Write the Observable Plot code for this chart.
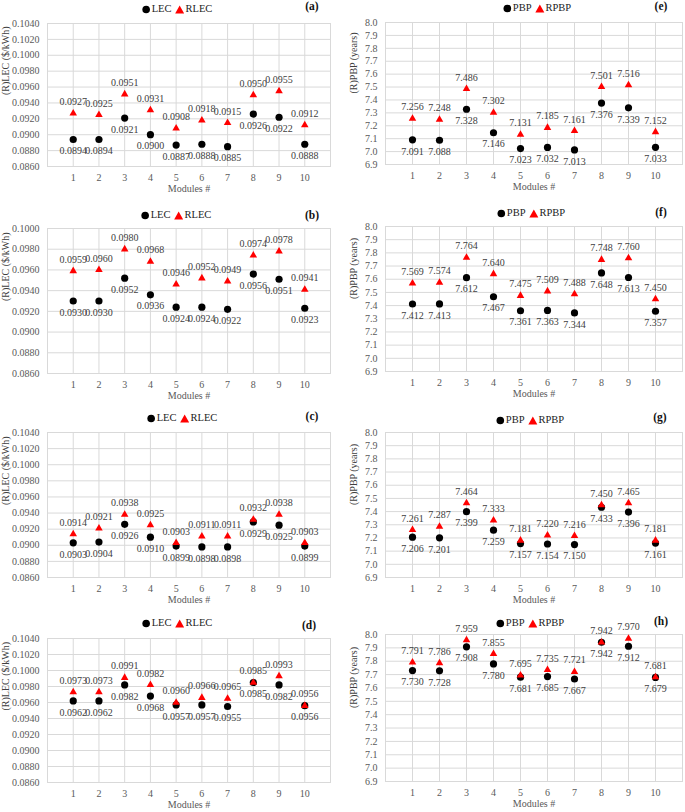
<!DOCTYPE html>
<html>
<head>
<meta charset="utf-8">
<script src="https://cdn.jsdelivr.net/npm/d3@7"></script>
<script src="https://cdn.jsdelivr.net/npm/@observablehq/plot@0.6"></script>
<style>
  html, body { margin: 0; padding: 0; background: #fff; }
  #root { position: relative; width: 685px; height: 812px; overflow: hidden; background: #fff;
          font-family: "Liberation Serif", serif; }
  .panel { position: absolute; }
  .panel svg, .panel svg text { font-family: "Liberation Serif", serif !important; }
  .legend { position: absolute; transform: translateX(-50%); font-size: 10.5px; line-height: 14px;
            color: #222; white-space: nowrap; display: flex; align-items: center; font-family: "Liberation Serif", serif; }
  .legend svg { display: inline-block; margin-right: 1px; }
  .plabel { position: absolute; transform: translate(-50%, -50%); font-weight: bold; font-size: 11.5px; color: #111;
            font-family: "Liberation Serif", serif; }
</style>
</head>
<body>
<div id="root"></div>
<script>
// ---- data ----
const modules = [1, 2, 3, 4, 5, 6, 7, 8, 9, 10];

const a_LEC  = [0.0894, 0.0894, 0.0921, 0.0900, 0.0887, 0.0888, 0.0885, 0.0926, 0.0922, 0.0888];
const a_RLEC = [0.0927, 0.0925, 0.0951, 0.0931, 0.0908, 0.0918, 0.0915, 0.0950, 0.0955, 0.0912];
const b_LEC  = [0.0930, 0.0930, 0.0952, 0.0936, 0.0924, 0.0924, 0.0922, 0.0956, 0.0951, 0.0923];
const b_RLEC = [0.0959, 0.0960, 0.0980, 0.0968, 0.0946, 0.0952, 0.0949, 0.0974, 0.0978, 0.0941];
const c_LEC  = [0.0903, 0.0904, 0.0926, 0.0910, 0.0899, 0.0898, 0.0898, 0.0929, 0.0925, 0.0899];
const c_RLEC = [0.0914, 0.0921, 0.0938, 0.0925, 0.0903, 0.0911, 0.0911, 0.0932, 0.0938, 0.0903];
const d_LEC  = [0.0962, 0.0962, 0.0982, 0.0968, 0.0957, 0.0957, 0.0955, 0.0985, 0.0982, 0.0956];
const d_RLEC = [0.0973, 0.0973, 0.0991, 0.0982, 0.0960, 0.0966, 0.0965, 0.0985, 0.0993, 0.0956];

const e_PBP  = [7.091, 7.088, 7.328, 7.146, 7.023, 7.032, 7.013, 7.376, 7.339, 7.033];
const e_RPBP = [7.256, 7.248, 7.486, 7.302, 7.131, 7.185, 7.161, 7.501, 7.516, 7.152];
const f_PBP  = [7.412, 7.413, 7.612, 7.467, 7.361, 7.363, 7.344, 7.648, 7.613, 7.357];
const f_RPBP = [7.569, 7.574, 7.764, 7.640, 7.475, 7.509, 7.488, 7.748, 7.760, 7.450];
const g_PBP  = [7.206, 7.201, 7.399, 7.259, 7.157, 7.154, 7.150, 7.433, 7.396, 7.161];
const g_RPBP = [7.261, 7.287, 7.464, 7.333, 7.181, 7.220, 7.216, 7.450, 7.465, 7.181];
const h_PBP  = [7.730, 7.728, 7.908, 7.780, 7.681, 7.685, 7.667, 7.942, 7.912, 7.679];
const h_RPBP = [7.791, 7.786, 7.959, 7.855, 7.695, 7.735, 7.721, 7.942, 7.970, 7.681];

const lecTicks  = [0.0860, 0.0880, 0.0900, 0.0920, 0.0940, 0.0960, 0.0980, 0.1000, 0.1020, 0.1040];
const lecTicksB = [0.0860, 0.0880, 0.0900, 0.0920, 0.0940, 0.0960, 0.0980, 0.1000];
const pbpTicks  = [6.9, 7.0, 7.1, 7.2, 7.3, 7.4, 7.5, 7.6, 7.7, 7.8, 7.9, 8.0];

const xLabel = "Modules #";
const lecLabel = "(R)LEC ($/kWh)";
const pbpLabel = "(R)PBP (years)";

// ---- layout ----
const cols = [
  {left: 0,   width: 340, ml: 47, mr: 10, ylabDx: -42},
  {left: 340, width: 345, ml: 45, mr: 3,  ylabDx: -32}
];

const panels = [
  {key: "a", col: 0, top: 23,  h: 143, lx: 177, ly: 9,   tx: 312, ty: 6,   kind: "LEC", ticks: lecTicks,  s1: a_LEC, s2: a_RLEC},
  {key: "b", col: 0, top: 228, h: 145, lx: 176, ly: 215, tx: 312, ty: 215, kind: "LEC", ticks: lecTicksB, s1: b_LEC, s2: b_RLEC},
  {key: "c", col: 0, top: 432, h: 145, lx: 182, ly: 418, tx: 312, ty: 416, kind: "LEC", ticks: lecTicks,  s1: c_LEC, s2: c_RLEC},
  {key: "d", col: 0, top: 638, h: 144, lx: 177, ly: 623, tx: 309, ty: 625, kind: "LEC", ticks: lecTicks,  s1: d_LEC, s2: d_RLEC},
  {key: "e", col: 1, top: 22,  h: 142, lx: 537, ly: 8,   tx: 661, ty: 6,   kind: "PBP", ticks: pbpTicks,  s1: e_PBP, s2: e_RPBP},
  {key: "f", col: 1, top: 226, h: 145, lx: 531, ly: 213, tx: 661, ty: 212, kind: "PBP", ticks: pbpTicks,  s1: f_PBP, s2: f_RPBP},
  {key: "g", col: 1, top: 432, h: 145, lx: 530, ly: 420, tx: 660, ty: 417, kind: "PBP", ticks: pbpTicks,  s1: g_PBP, s2: g_RPBP},
  {key: "h", col: 1, top: 634, h: 147, lx: 530, ly: 623, tx: 661, ty: 621, kind: "PBP", ticks: pbpTicks,  s1: h_PBP, s2: h_RPBP}
];

const root = document.getElementById("root");
const MT = 16, MB = 34;
const grid = "#d9d9d9";
const font = "Liberation Serif";
const FS = 10;

for (const p of panels) {
  const c = cols[p.col];
  const isLEC = p.kind === "LEC";
  const dec = isLEC ? 4 : 3;
  const data = modules.map((m, i) => ({m, v1: p.s1[i], v2: p.s2[i]}));
  const chart = Plot.plot({
    width: c.width,
    height: MT + p.h + MB,
    marginLeft: c.ml,
    marginRight: c.mr,
    marginTop: MT,
    marginBottom: MB,
    style: `font-family: "Liberation Serif", serif; font-size: ${FS}px; color: #595959; background: transparent; overflow: visible;`,
    x: {domain: [0, 11], label: null},
    y: {domain: [p.ticks[0], p.ticks[p.ticks.length - 1]], label: null},
    marks: [
      Plot.gridX(modules, {stroke: grid, strokeOpacity: 1}),
      Plot.gridY(p.ticks, {stroke: grid, strokeOpacity: 1}),
      Plot.frame({stroke: grid}),
      Plot.axisX(modules, {tickSize: 0, tickPadding: 7, label: null, fill: "#595959", fontFamily: font, fontSize: FS}),
      Plot.axisY(p.ticks, {tickSize: 0, tickPadding: 8, label: null, fill: "#595959", fontFamily: font, fontSize: FS,
        tickFormat: d => d.toFixed(isLEC ? 4 : 1)}),
      Plot.dot(data, {x: "m", y: "v1", r: 3.6, fill: "#000", stroke: "none"}),
      Plot.dot(data, {x: "m", y: "v2", r: 2.8, symbol: "triangle", fill: "#ff0000", stroke: "none"}),
      Plot.text(data, {x: "m", y: "v1", text: d => d.v1.toFixed(dec), dy: 11.5, fill: "#404040", fontFamily: font, fontSize: FS}),
      Plot.text(data, {x: "m", y: "v2", text: d => d.v2.toFixed(dec), dy: -11.5, fill: "#404040", fontFamily: font, fontSize: FS}),
      Plot.text([xLabel], {frameAnchor: "bottom", dy: 25, fill: "#595959", fontFamily: font, fontSize: FS}),
      Plot.text([isLEC ? lecLabel : pbpLabel], {frameAnchor: "left", rotate: -90, dx: c.ylabDx, fill: "#404040", fontFamily: font, fontSize: FS})
    ]
  });
  const wrap = document.createElement("div");
  wrap.className = "panel";
  wrap.style.left = c.left + "px";
  wrap.style.top = (p.top - MT) + "px";
  wrap.appendChild(chart);
  root.appendChild(wrap);
}

// legends and panel labels on top
for (const p of panels) {
  const isLEC = p.kind === "LEC";
  const lg = document.createElement("div");
  lg.className = "legend";
  lg.style.left = p.lx + "px";
  lg.style.top = (p.ly - 7) + "px";
  const n1 = isLEC ? "LEC" : "PBP", n2 = isLEC ? "RLEC" : "RPBP";
  lg.innerHTML =
    `<svg width="9" height="9"><circle cx="4.5" cy="4.5" r="3.8" fill="#000"/></svg><span>${n1}</span>` +
    `<svg width="10" height="9" style="margin-left:3px"><polygon points="5,0.5 9.5,8.5 0.5,8.5" fill="#ff0000"/></svg><span>${n2}</span>`;
  root.appendChild(lg);
  const pl = document.createElement("div");
  pl.className = "plabel";
  pl.style.left = p.tx + "px";
  pl.style.top = p.ty + "px";
  pl.textContent = "(" + p.key + ")";
  root.appendChild(pl);
}
</script>
</body>
</html>
